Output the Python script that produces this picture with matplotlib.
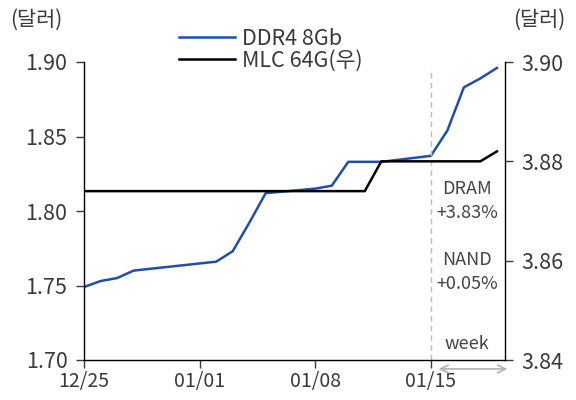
import matplotlib
matplotlib.use("Agg")
import matplotlib.pyplot as plt
import pandas as pd

plt.rcParams['font.family'] = ['Noto Sans CJK KR', 'DejaVu Sans']

ddr4_dates = ["2023-12-25", "2023-12-26", "2023-12-27", "2023-12-28", "2024-01-02",
              "2024-01-03", "2024-01-04", "2024-01-05", "2024-01-08", "2024-01-09",
              "2024-01-10", "2024-01-11", "2024-01-12", "2024-01-15", "2024-01-16",
              "2024-01-17", "2024-01-18", "2024-01-19"]
ddr4_values = [1.749, 1.753, 1.755, 1.760, 1.766, 1.773, 1.792, 1.812, 1.815, 1.817,
               1.833, 1.833, 1.833, 1.837, 1.854, 1.883, 1.889, 1.896]

mlc_dates = ["2023-12-25", "2024-01-11", "2024-01-12", "2024-01-18", "2024-01-19"]
mlc_values = [3.874, 3.874, 3.880, 3.880, 3.882]

x_ticks = ["2023-12-25", "2024-01-01", "2024-01-08", "2024-01-15"]
x_ticklabels = ["12/25", "01/01", "01/08", "01/15"]
left_ticks = [1.70, 1.75, 1.80, 1.85, 1.90]
right_ticks = [3.84, 3.86, 3.88, 3.90]

d1 = pd.to_datetime(ddr4_dates)
d2 = pd.to_datetime(mlc_dates)

fig = plt.figure(figsize=(5.76, 4.0), dpi=100)
ax = fig.add_axes([0.146, 0.10, 0.731, 0.745])
ax2 = ax.twinx()

blue = '#1f4eb0'
l1, = ax.plot(d1, ddr4_values, color=blue, lw=1.8, label='DDR4 8Gb')
l2, = ax2.plot(d2, mlc_values, color='black', lw=1.8, label='MLC 64G(우)')

x0 = pd.Timestamp("2023-12-25")
ax.set_xlim(x0, x0 + pd.Timedelta(days=25.5))
ax.set_ylim(1.70, 1.90)
ax2.set_ylim(3.84, 3.90)
ax.set_yticks(left_ticks)
ax.set_yticklabels([f"{v:.2f}" for v in left_ticks])
ax2.set_yticks(right_ticks)
ax2.set_yticklabels([f"{v:.2f}" for v in right_ticks])
ax.set_xticks(pd.to_datetime(x_ticks))
ax.set_xticklabels(x_ticklabels)

tc = '#3a3a3a'
for a in (ax, ax2):
    a.spines['top'].set_visible(False)
    a.tick_params(labelsize=15.5, colors=tc, length=6, width=1)
    for s in a.spines.values():
        s.set_linewidth(1.0)
ax.spines['right'].set_visible(False)
ax2.spines['left'].set_visible(False)
ax2.spines['bottom'].set_visible(False)
ax.tick_params(axis='x', labelsize=14, pad=2)
ax.tick_params(axis='y', pad=6)
ax2.tick_params(axis='y', pad=6)

# vertical dashed line at 01/15
vx = pd.Timestamp("2024-01-15")
ax.axvline(vx, color='#bbbbbb', lw=1, ls=(0, (4, 3)), ymax=0.98)

# annotations
tx = x0 + pd.Timedelta(days=23.2)
ax.text(tx, 1.8067, "DRAM\n+3.83%", ha='center', va='center', fontsize=13,
        color='#444444', linespacing=1.45)
ax.text(tx, 1.759, "NAND\n+0.05%", ha='center', va='center', fontsize=13,
        color='#444444', linespacing=1.45)
ax.text(tx, 1.711, "week", ha='center', va='center', fontsize=13, color='#444444')
ax.annotate("", xy=(x0 + pd.Timedelta(days=25.8), 1.694),
            xytext=(x0 + pd.Timedelta(days=21.3), 1.694),
            xycoords='data', textcoords='data', annotation_clip=False,
            arrowprops=dict(arrowstyle='<->', color='#b0b0b0', lw=1.2,
                            mutation_scale=14))

# unit labels
fig.text(0.063, 0.95, "(달러)", ha='center', va='center', fontsize=15, color=tc)
fig.text(0.937, 0.95, "(달러)", ha='center', va='center', fontsize=15, color=tc)

leg = fig.legend(handles=[l1, l2], loc='upper left', bbox_to_anchor=(0.296, 0.952),
                 frameon=False, fontsize=15.5, handlelength=2.6, handletextpad=0.3,
                 labelspacing=0.0, labelcolor=tc, borderaxespad=0)

fig.savefig("out.png", dpi=100)
